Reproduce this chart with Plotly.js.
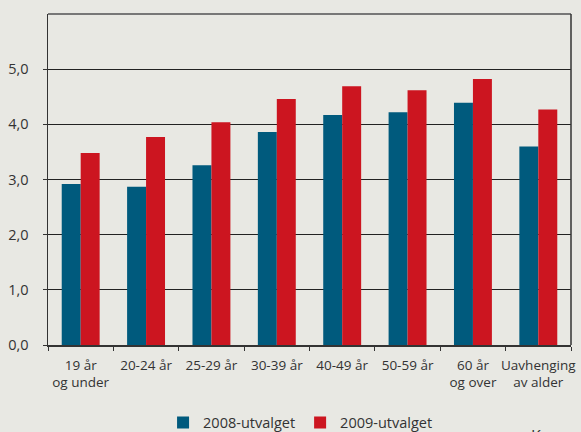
<!DOCTYPE html>
<html>
<head>
<meta charset="utf-8">
<script src="https://cdn.plot.ly/plotly-3.0.1.min.js"></script>
<style>html,body{margin:0;padding:0;background:#e8e8e3;}#chart{width:581px;height:432px;}</style>
</head>
<body>
<div id="chart"></div>
<script>
const categories = ["19 år<br>og under", "20-24 år", "25-29 år", "30-39 år", "40-49 år", "50-59 år", "60 år<br>og over", "Uavhenging<br>av alder"];
const series2008 = [2.92, 2.87, 3.26, 3.86, 4.17, 4.22, 4.39, 3.60];
const series2009 = [3.48, 3.77, 4.04, 4.46, 4.69, 4.62, 4.82, 4.27];
const yTicks = [0, 1, 2, 3, 4, 5];
const yTickLabels = ["0,0", "1,0", "2,0", "3,0", "4,0", "5,0"];

const font = "Open Sans, Noto Sans, sans-serif";
const traces = [
  {type: "bar", name: "2008-utvalget", x: categories, y: series2008, marker: {color: "#005a7d"}},
  {type: "bar", name: "2009-utvalget", x: categories, y: series2009, marker: {color: "#cc1520"}}
];
const layout = {
  width: 581, height: 432,
  paper_bgcolor: "#e8e8e3", plot_bgcolor: "#e8e8e3",
  margin: {l: 48, r: 10, t: 14, b: 87, autoexpand: false},
  barmode: "group", bargap: 0.42, bargroupgap: 0,
  font: {family: font, size: 13, color: "#333"},
  showlegend: true,
  legend: {orientation: "h", x: 0.22, xanchor: "left", y: -0.186, yanchor: "top",
           font: {family: font, size: 14.5, color: "#333"}, traceorder: "normal"},
  xaxis: {showgrid: false, showline: true, linecolor: "#333", linewidth: 1.5,
          ticks: "outside", tickson: "boundaries", ticklen: 4, tickcolor: "#333",
          tickangle: 0, automargin: false, ticklabelstandoff: 7,
          tickfont: {family: font, size: 13.5, color: "#333"}, fixedrange: true},
  yaxis: {range: [0, 6], tickvals: yTicks, ticktext: yTickLabels,
          showgrid: true, gridcolor: "#222", gridwidth: 1.2,
          showline: true, linecolor: "#333", linewidth: 1.5, automargin: false,
          ticks: "outside", ticklen: 4, tickcolor: "#333", zeroline: false,
          ticklabelstandoff: 11,
          tickfont: {family: font, size: 14.5, color: "#333"}, fixedrange: true},
  shapes: [
    {type: "line", xref: "paper", yref: "paper", x0: 0, x1: 1, y0: 1, y1: 1, line: {color: "#777", width: 2}},
    {type: "line", xref: "paper", yref: "paper", x0: 1, x1: 1, y0: 0, y1: 1, line: {color: "#333", width: 1.5}}
  ],
  annotations: [
    {xref: "paper", yref: "paper", x: 0.92, y: -0.235, xanchor: "left", yanchor: "top",
     text: "Kryss", showarrow: false, font: {family: font, size: 16, color: "#333"}}
  ]
};
Plotly.newPlot("chart", traces, layout, {displayModeBar: false, staticPlot: true});
</script>
</body>
</html>
